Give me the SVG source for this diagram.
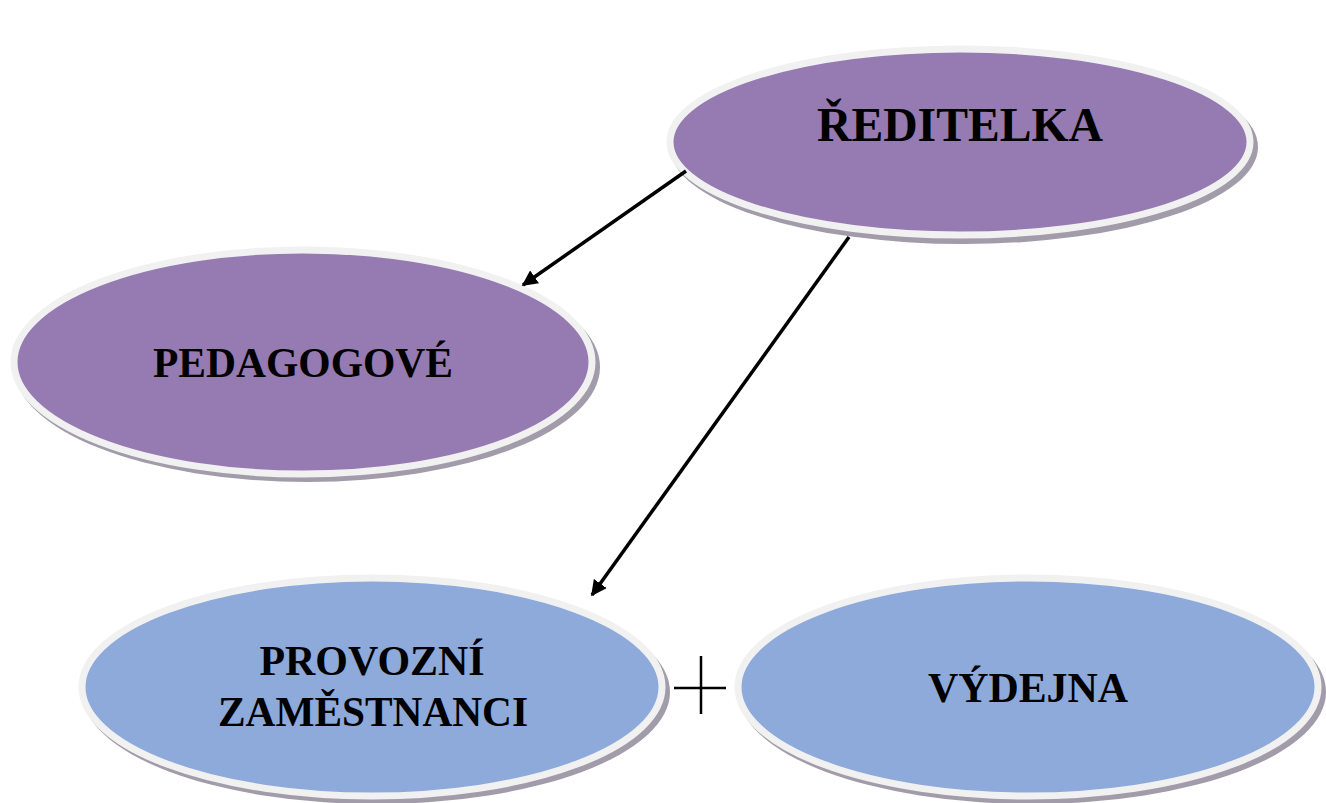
<svg xmlns="http://www.w3.org/2000/svg" width="1326" height="803" viewBox="0 0 1326 803">
<defs>
<style>
.sh{fill:#a29ba9;}
.pu{fill:#957bb2;stroke:#f1f1f1;stroke-width:7;}
.bl{fill:#8eaadb;stroke:#f1f1f1;stroke-width:7;}
.t{font-family:"Liberation Serif","Times New Roman",serif;font-weight:bold;font-size:42px;fill:#000;text-anchor:middle;}
.big{font-size:48px;}
.c{stroke:#000;stroke-width:3.5;fill:none;marker-end:url(#ah);}
</style>
<marker id="ah" viewBox="0 0 10 10" refX="9" refY="5" markerWidth="4.5" markerHeight="4.5" orient="auto" markerUnits="strokeWidth">
<path d="M0,0 L10,5 L0,10 z" fill="#000"/>
</marker>
</defs>
<rect width="1326" height="803" fill="#fff"/>
<g id="reditelka">
<ellipse class="sh" cx="964" cy="147" rx="294" ry="97"/>
<ellipse class="pu" cx="960" cy="142" rx="290" ry="93"/>
<text class="t big" x="960" y="141" textLength="286" lengthAdjust="spacingAndGlyphs">ŘEDITELKA</text>
</g>
<g id="pedagogove">
<ellipse class="sh" cx="307" cy="367" rx="293" ry="115"/>
<ellipse class="pu" cx="303" cy="362" rx="289" ry="112"/>
<text class="t" x="303" y="377" textLength="300" lengthAdjust="spacingAndGlyphs">PEDAGOGOVÉ</text>
</g>
<g id="provozni">
<ellipse class="sh" cx="376" cy="692" rx="294" ry="112"/>
<ellipse class="bl" cx="372" cy="687" rx="290" ry="109"/>
<text class="t" x="372" y="675" textLength="225" lengthAdjust="spacingAndGlyphs">PROVOZNÍ</text>
<text class="t" x="373" y="726" textLength="310" lengthAdjust="spacingAndGlyphs">ZAMĚSTNANCI</text>
</g>
<g id="vydejna">
<ellipse class="sh" cx="1032" cy="692" rx="294" ry="112"/>
<ellipse class="bl" cx="1028" cy="687" rx="290" ry="109"/>
<text class="t" x="1028" y="702" textLength="200" lengthAdjust="spacingAndGlyphs">VÝDEJNA</text>
</g>
<g id="plus">
<path d="M674,688 H726 M701,656 V714" stroke="#000" stroke-width="2.5" fill="none"/>
</g>
<g id="connectors">
<line class="c" x1="686" y1="171" x2="523" y2="285"/>
<line class="c" x1="849" y1="237" x2="592" y2="595"/>
</g>
</svg>
